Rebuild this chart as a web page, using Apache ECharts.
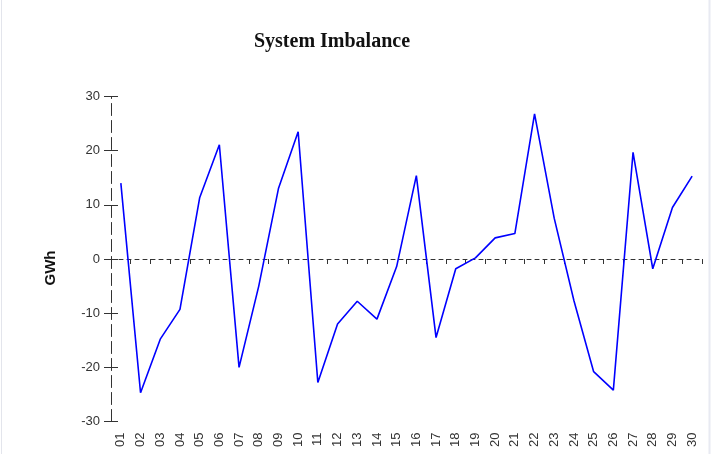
<!DOCTYPE html>
<html>
<head>
<meta charset="utf-8">
<script src="https://cdn.jsdelivr.net/npm/echarts@6/dist/echarts.min.js"></script>
<style>
  html, body { margin: 0; padding: 0; background: #fff; }
  #chart { width: 712px; height: 454px; }
</style>
</head>
<body>
<div id="chart"></div>
<script>
// days of the month
var days = ['01', '02', '03', '04', '05', '06', '07', '08', '09', '10',
  '11', '12', '13', '14', '15', '16', '17', '18', '19', '20',
  '21', '22', '23', '24', '25', '26', '27', '28', '29', '30'];
// imbalance in GWh
var imbalance = [14, -24.7, -14.8, -9.3, 11.3, 21.1, -20.0, -5, 13.0, 23.5,
  -22.8, -12.0, -7.8, -11.1, -1.4, 15.4, -14.5, -1.8, 0.2, 3.9,
  4.7, 26.8, 7.5, -7.7, -20.8, -24.2, 19.7, -1.8, 9.5, 15.3];
var yMin = -30, yMax = 30, yStep = 10;

var axisColor = '#333';
var font = 'Liberation Sans, Arial, sans-serif';

var chart = echarts.init(document.getElementById('chart'));

var option = {
  animation: false,
  backgroundColor: '#fff',
  graphic: [
    {
      type: 'text',
      x: 332,
      y: 42,
      style: {
        text: 'System Imbalance',
        fontFamily: 'Liberation Serif, Times New Roman, serif',
        fontSize: 20,
        fontWeight: 'bold',
        fill: '#111',
        align: 'center',
        verticalAlign: 'middle'
      }
    },
    {
      type: 'text',
      x: 51,
      y: 268,
      rotation: Math.PI / 2,
      style: {
        text: 'GWh',
        fontFamily: font,
        fontSize: 15,
        fontWeight: 'bold',
        fill: '#111',
        align: 'center',
        verticalAlign: 'middle'
      }
    },
    { type: 'line', shape: { x1: 1.5, y1: 0, x2: 1.5, y2: 454 }, style: { stroke: '#e3e5ec', lineWidth: 1 } },
    { type: 'line', shape: { x1: 709.5, y1: 0, x2: 709.5, y2: 454 }, style: { stroke: '#e8eaf2', lineWidth: 2 } }
  ],
  grid: { left: 111, right: 10, top: 96.5, bottom: 32.5 },
  xAxis: [
    {
      // labels at the bottom
      type: 'category',
      data: days,
      position: 'bottom',
      axisLine: { show: false, onZero: false },
      axisTick: { show: false },
      splitLine: { show: false },
      axisLabel: { rotate: 90, margin: 11, fontFamily: font, fontSize: 13, color: axisColor, interval: 0 }
    },
    {
      // dashed zero line with ticks
      type: 'category',
      data: days,
      position: 'bottom',
      axisLine: { show: true, onZero: true, lineStyle: { color: axisColor, type: [4, 4], width: 1 } },
      axisTick: { show: true, length: 5, interval: 0, lineStyle: { color: axisColor } },
      axisLabel: { show: false },
      splitLine: { show: false }
    }
  ],
  yAxis: [
    {
      type: 'value',
      min: yMin,
      max: yMax,
      interval: yStep,
      position: 'left',
      axisLine: { show: true, lineStyle: { color: axisColor, type: [12, 5], width: 1 } },
      axisTick: { show: true, length: 7, lineStyle: { color: axisColor } },
      axisLabel: { margin: 11, fontFamily: font, fontSize: 13, color: axisColor },
      splitLine: { show: false }
    },
    {
      // inner half of the cross ticks
      type: 'value',
      min: yMin,
      max: yMax,
      interval: yStep,
      position: 'left',
      axisLine: { show: false },
      axisTick: { show: true, inside: true, length: 7, lineStyle: { color: axisColor } },
      axisLabel: { show: false },
      splitLine: { show: false }
    }
  ],
  series: [
    {
      name: 'System Imbalance',
      type: 'line',
      xAxisIndex: 0,
      yAxisIndex: 0,
      data: imbalance,
      showSymbol: false,
      symbol: 'none',
      lineStyle: { color: '#0000ff', width: 1.6 }
    }
  ]
};

chart.setOption(option);
</script>
</body>
</html>
